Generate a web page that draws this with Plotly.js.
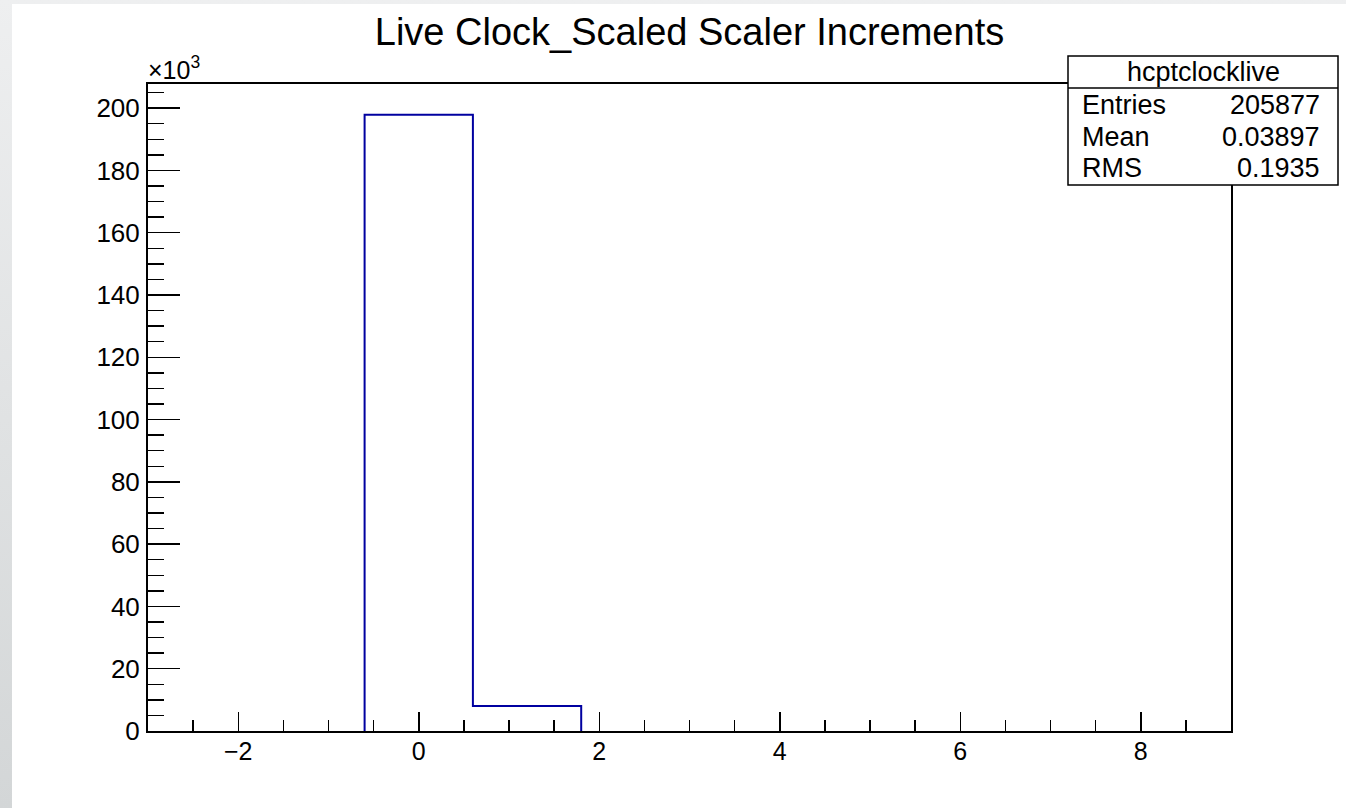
<!DOCTYPE html>
<html>
<head>
<meta charset="utf-8">
<script src="https://cdn.plot.ly/plotly-3.0.1.min.js"></script>
<style>
  html, body { margin: 0; padding: 0; width: 1346px; height: 808px; overflow: hidden;
    background: linear-gradient(to bottom, #eeeff0, #d3d6d7); }
  #chart { position: absolute; left: 12px; top: 4px; width: 1334px; height: 804px; background: #fff; }
</style>
</head>
<body>
<div id="chart"></div>
<script>
// ---- data (counts in thousands) ----
const binLowEdges = [-3.0, -1.8, -0.6, 0.6, 1.8, 3.0, 4.2, 5.4, 6.6, 7.8];
const binWidth = 1.2;
const binCounts = [0, 0, 197.854, 8.023, 0, 0, 0, 0, 0, 0];
const histName = "hcptclocklive";
const chartTitle = "Live Clock_Scaled Scaler Increments";
const statsLabels = ["Entries", "Mean", "RMS"];
const statsValues = ["205877", "0.03897", "0.1935"];

// step outline built from bins (baseline segments hidden under the axis, as in ROOT)
let first = binCounts.findIndex(v => v !== 0);
let last = binCounts.length - 1;
while (last > 0 && binCounts[last] === 0) last--;
const stepX = [binLowEdges[first]];
const stepY = [0];
for (let i = first; i <= last; i++) { stepX.push(binLowEdges[i]); stepY.push(binCounts[i]); }
stepX.push(binLowEdges[last] + binWidth); stepY.push(0);
const yMax = 1.05 * Math.max(...binCounts);

// page-pixel -> paper helpers (plot area spans page x 148..1231, y 84..731)
const PL = 148, PR = 1231, PT = 84, PB = 731;
const fx = px => (px - PL) / (PR - PL);
const fy = py => (PB - py) / (PB - PT);

const FONT = "Liberation Sans, Arial, Helvetica, sans-serif";

const trace = {
  type: "scatter", mode: "lines",
  x: stepX, y: stepY,
  line: { shape: "hv", color: "#0000a0", width: 2 },
  hoverinfo: "skip", showlegend: false
};

const statsFont = { family: FONT, size: 27, color: "#000" };
const annotations = [
  { text: "×10<sup>3</sup>", xref: "paper", yref: "paper", x: fx(146), y: fy(86),
    xanchor: "left", yanchor: "bottom", showarrow: false,
    font: { family: FONT, size: 25, color: "#000" } },
  { text: histName, xref: "paper", yref: "paper", x: fx(1203), y: fy(72),
    xanchor: "center", yanchor: "middle", showarrow: false, font: statsFont }
];
const rowY = [105, 137, 168];
statsLabels.forEach((lab, i) => {
  annotations.push({ text: lab, xref: "paper", yref: "paper", x: fx(1080), y: fy(rowY[i]),
    xanchor: "left", yanchor: "middle", showarrow: false, font: statsFont });
  annotations.push({ text: statsValues[i], xref: "paper", yref: "paper", x: fx(1322), y: fy(rowY[i]),
    xanchor: "right", yanchor: "middle", showarrow: false, font: statsFont });
});

const shapes = [
  { type: "rect", xref: "paper", yref: "paper", x0: fx(1068), x1: fx(1338), y0: fy(185), y1: fy(56),
    fillcolor: "#fff", line: { color: "#000", width: 1.5 }, layer: "above" },
  { type: "line", xref: "paper", yref: "paper", x0: fx(1068), x1: fx(1338), y0: fy(88), y1: fy(88),
    line: { color: "#000", width: 1.5 }, layer: "above" }
];

const layout = {
  width: 1334, height: 804,
  margin: { l: PL - 12, r: 1346 - PR, t: PT - 4, b: 808 - PB, pad: 0 },
  paper_bgcolor: "#fff", plot_bgcolor: "#fff",
  font: { family: FONT, color: "#000" },
  title: { text: chartTitle, font: { family: FONT, size: 38, color: "#000" },
    xref: "paper", x: 0.5, xanchor: "center", yref: "container", y: 1 - (32 - 4) / 804, yanchor: "middle" },
  xaxis: {
    range: [-3, 9], tick0: 0, dtick: 2, ticks: "inside", ticklen: 19, tickwidth: 1.5, tickcolor: "#000",
    showline: true, linecolor: "#000", linewidth: 2, mirror: true, zeroline: false, showgrid: false,
    tickfont: { family: FONT, size: 25, color: "#000" }, ticklabelstandoff: -3,
    minor: { dtick: 0.5, tick0: 0, ticks: "inside", ticklen: 11, tickwidth: 1.5, tickcolor: "#000", showgrid: false }
  },
  yaxis: {
    range: [0, yMax], tick0: 0, dtick: 20, ticks: "inside", ticklen: 32, tickwidth: 1.5, tickcolor: "#000",
    showline: true, linecolor: "#000", linewidth: 2, mirror: true, zeroline: false, showgrid: false,
    tickfont: { family: FONT, size: 26, color: "#000" }, ticklabelstandoff: 1,
    minor: { dtick: 5, tick0: 0, ticks: "inside", ticklen: 16, tickwidth: 1.5, tickcolor: "#000", showgrid: false }
  },
  shapes: shapes,
  annotations: annotations,
  showlegend: false
};

Plotly.newPlot("chart", [trace], layout, { staticPlot: true, displayModeBar: false });
</script>
</body>
</html>
